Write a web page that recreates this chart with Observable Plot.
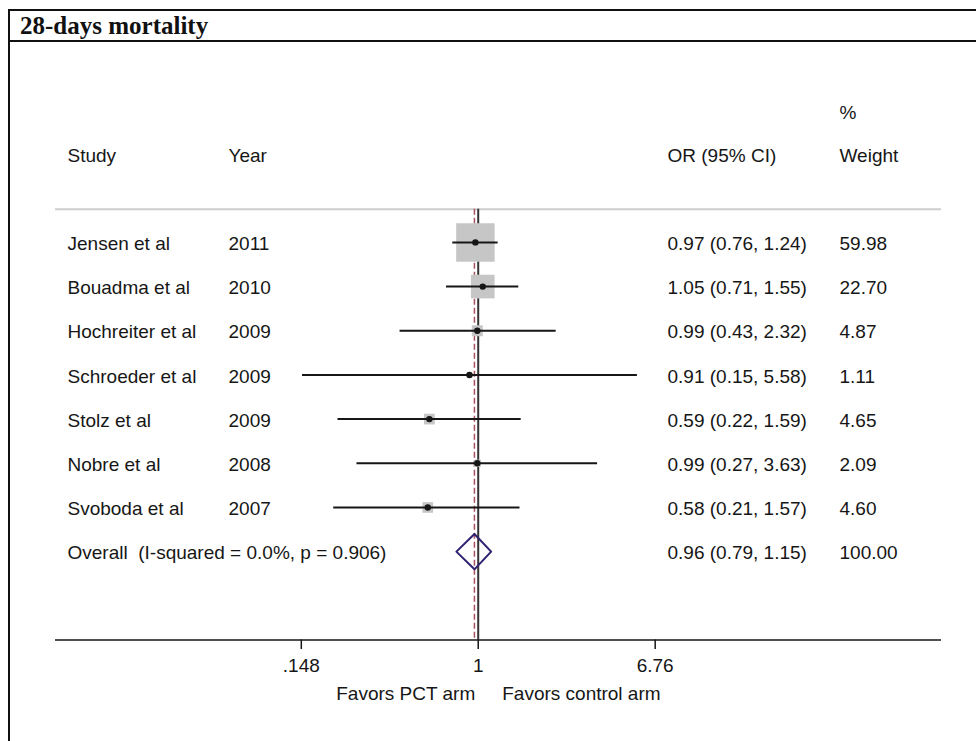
<!DOCTYPE html>
<html>
<head>
<meta charset="utf-8">
<script src="https://cdn.jsdelivr.net/npm/d3@7"></script>
<script src="https://cdn.jsdelivr.net/npm/@observablehq/plot@0.6"></script>
<style>
  html, body { margin: 0; padding: 0; background: #fff; overflow: hidden; width: 976px; height: 741px; }
  #chart { position: absolute; left: 0; top: 0; }
  #box { position: absolute; left: 8px; top: 9px; width: 1000px; height: 800px;
         border-left: 2px solid #111; border-top: 2px solid #111; pointer-events: none; }
  #title { font-family: "Liberation Serif", "Times New Roman", serif; font-weight: bold; font-size: 25px;
           line-height: 29px; height: 28.5px; padding-left: 10px; color: #111;
           border-bottom: 2px solid #111; background: #fff; }
  #chart text { white-space: pre; }
</style>
</head>
<body>
<div id="chart"></div>
<div id="box"><div id="title">28-days mortality</div></div>
<script>
// ---- data ----
const studies = ["Jensen et al", "Bouadma et al", "Hochreiter et al", "Schroeder et al", "Stolz et al", "Nobre et al", "Svoboda et al"];
const years   = [2011, 2010, 2009, 2009, 2009, 2008, 2007];
const ors     = [0.97, 1.05, 0.99, 0.91, 0.59, 0.99, 0.58];
const los     = [0.76, 0.71, 0.43, 0.15, 0.22, 0.27, 0.21];
const his     = [1.24, 1.55, 2.32, 5.58, 1.59, 3.63, 1.57];
const weights = [59.98, 22.70, 4.87, 1.11, 4.65, 2.09, 4.60];
const overallLabel = "Overall\u00a0 (I-squared = 0.0%, p = 0.906)";
const overallOR = 0.96, overallLo = 0.79, overallHi = 1.15, overallWeight = 100.00;
const tickValues = [0.148, 1, 6.76];
const tickLabels = [".148", "1", "6.76"];
const headers = {study: "Study", year: "Year", ci: "OR (95% CI)", pct: "%", weight: "Weight"};
const favorsLeft = "Favors PCT arm";
const favorsRight = "Favors control arm";

// ---- derived table ----
const fmt = v => v.toFixed(2);
const rows = studies.map((s, i) => ({
  study: s, year: String(years[i]), or: ors[i], lo: los[i], hi: his[i], w: weights[i], row: i,
  ci: `${fmt(ors[i])} (${fmt(los[i])}, ${fmt(his[i])})`, wt: fmt(weights[i])
}));
const overallRow = studies.length;
const overall = [{label: overallLabel, row: overallRow,
  ci: `${fmt(overallOR)} (${fmt(overallLo)}, ${fmt(overallHi)})`, wt: fmt(overallWeight)}];
const half = 0.4;
const diamond = [
  {x: overallLo, y: overallRow}, {x: overallOR, y: overallRow - half},
  {x: overallHi, y: overallRow}, {x: overallOR, y: overallRow + half},
  {x: overallLo, y: overallRow}
];
const ticks = tickValues.map((v, i) => ({v, label: tickLabels[i]}));
const headerRow = -2, pctRow = -3, sepRow = -0.75, axisRow = 9;

const ink = "#161616";
const col = {study: 12, year: 173, ci: 612, weight: 784};
const tdy = 1.5;

const plot = Plot.plot({
  width: 976,
  height: 741,
  marginLeft: 55,
  marginRight: 35,
  marginTop: 43.1,
  marginBottom: 101.5,
  style: {fontFamily: "'Liberation Sans', Arial, sans-serif", fontSize: "19px", color: ink, background: "transparent"},
  x: {type: "log", domain: [Math.exp(-4.565), Math.exp(5.003)]},
  y: {domain: [-4.5, 9], reverse: true, axis: null},
  r: {type: "sqrt", domain: [0, d3.max(weights)], range: [0, 21.7]},
  marks: [
    Plot.ruleY([sepRow], {stroke: "#cdcdcd", strokeWidth: 2}),
    Plot.ruleX([1], {y1: sepRow, y2: axisRow, stroke: "#333", strokeWidth: 2}),
    Plot.ruleX([overallOR], {y1: sepRow, y2: axisRow, stroke: "#a5525e", strokeWidth: 1.5, strokeDasharray: "6,3"}),
    Plot.dot(rows, {x: "or", y: "row", r: "w", symbol: "square", fill: "#c6c6c6"}),
    Plot.ruleY(rows, {y: "row", x1: "lo", x2: "hi", stroke: ink, strokeWidth: 2}),
    Plot.dot(rows, {x: "or", y: "row", r: 3.2, fill: ink}),
    Plot.line(diamond, {x: "x", y: "y", stroke: "#2f2170", strokeWidth: 2}),
    Plot.ruleY([axisRow], {stroke: ink, strokeWidth: 1.5}),
    Plot.axisX(tickValues, {tickFormat: () => "", tickSize: 9.5, stroke: ink, strokeWidth: 1.5, label: null}),
    Plot.text(ticks, {x: "v", y: axisRow, text: "label", lineAnchor: "top", dy: 18.5, fill: ink}),
    // headers
    Plot.text([headers.study], {y: headerRow, text: d => d, frameAnchor: "left", dx: col.study, dy: tdy, textAnchor: "start", fill: ink}),
    Plot.text([headers.year], {y: headerRow, text: d => d, frameAnchor: "left", dx: col.year, dy: tdy, textAnchor: "start", fill: ink}),
    Plot.text([headers.ci], {y: headerRow, text: d => d, frameAnchor: "left", dx: col.ci, dy: tdy, textAnchor: "start", fill: ink}),
    Plot.text([headers.weight], {y: headerRow, text: d => d, frameAnchor: "left", dx: col.weight, dy: tdy, textAnchor: "start", fill: ink}),
    Plot.text([headers.pct], {y: pctRow, text: d => d, frameAnchor: "left", dx: col.weight, dy: tdy + 1.5, textAnchor: "start", fill: ink}),
    // rows
    Plot.text(rows, {y: "row", text: "study", frameAnchor: "left", dx: col.study, dy: tdy, textAnchor: "start", fill: ink}),
    Plot.text(rows, {y: "row", text: "year", frameAnchor: "left", dx: col.year, dy: tdy, textAnchor: "start", fill: ink}),
    Plot.text(rows, {y: "row", text: "ci", frameAnchor: "left", dx: col.ci, dy: tdy, textAnchor: "start", fill: ink}),
    Plot.text(rows, {y: "row", text: "wt", frameAnchor: "left", dx: col.weight, dy: tdy, textAnchor: "start", fill: ink}),
    // overall
    Plot.text(overall, {y: "row", text: "label", frameAnchor: "left", dx: col.study, dy: tdy, textAnchor: "start", fill: ink}),
    Plot.text(overall, {y: "row", text: "ci", frameAnchor: "left", dx: col.ci, dy: tdy, textAnchor: "start", fill: ink}),
    Plot.text(overall, {y: "row", text: "wt", frameAnchor: "left", dx: col.weight, dy: tdy, textAnchor: "start", fill: ink}),
    // favors labels
    Plot.text([favorsLeft], {x: 1, y: axisRow, text: d => d, textAnchor: "end", lineAnchor: "bottom", dx: -3, dy: 59.5, fill: ink}),
    Plot.text([favorsRight], {x: 1, y: axisRow, text: d => d, textAnchor: "start", lineAnchor: "bottom", dx: 24, dy: 59.5, fill: ink})
  ]
});
document.getElementById("chart").appendChild(plot);
</script>
</body>
</html>
